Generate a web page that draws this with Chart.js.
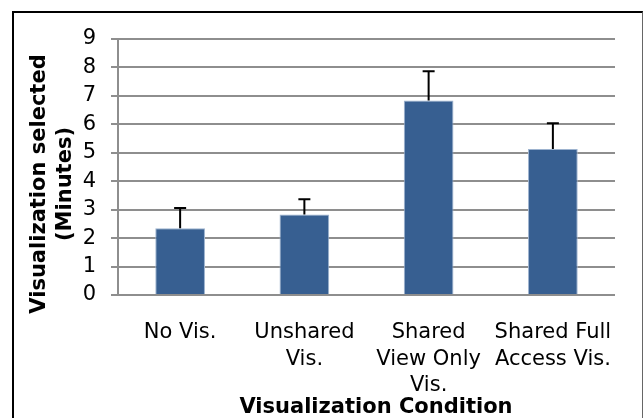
<!DOCTYPE html>
<html>
<head>
<meta charset="utf-8">
<script src="https://cdn.jsdelivr.net/npm/chart.js@4"></script>
<style>
	body { margin: 0; background: #fff; }
	#wrap { position: relative; width: 643px; height: 418px; overflow: hidden; }
	#frame { position: absolute; left: 12px; top: 11px; width: 628px; height: 440px; border-left: 2px solid #000; border-top: 2px solid #000; border-right: 1px solid #666; }
	canvas { position: absolute; left: 0; top: 0; }
</style>
</head>
<body>
<div id="wrap">
	<div id="frame"></div>
	<canvas id="chart" width="643" height="418"></canvas>
</div>
<script>
/*-------------------------------------------------------------------------*/
// Data
/*-------------------------------------------------------------------------*/
var conditions = [['No Vis.'], ['Unshared', 'Vis.'], ['Shared', 'View Only', 'Vis.'], ['Shared Full', 'Access Vis.']];
var meanMinutes = [2.35, 2.83, 6.84, 5.13];
var errMinutes = [0.71, 0.54, 1.03, 0.91];
var yTicks = [0, 1, 2, 3, 4, 5, 6, 7, 8, 9];

var yTitle = ['Visualization selected', '(Minutes)'];
var xTitle = 'Visualization Condition';

var fontFamily = '"DejaVu Sans", Verdana, sans-serif';

// Error bars (upper only) drawn on top of the bars
var errorBarPlugin = {
	id: 'errorBars',
	afterDatasetsDraw: function(chart) {
		var ctx = chart.ctx;
		var yScale = chart.scales.y;
		var meta = chart.getDatasetMeta(0);
		ctx.save();
		ctx.strokeStyle = '#000';
		ctx.lineWidth = 2;
		meta.data.forEach(function(bar, i) {
			var top = yScale.getPixelForValue(meanMinutes[i] + errMinutes[i]);
			ctx.beginPath();
			ctx.moveTo(bar.x, bar.y);
			ctx.lineTo(bar.x, top);
			ctx.moveTo(bar.x - 6, top);
			ctx.lineTo(bar.x + 6, top);
			ctx.stroke();
		});
		ctx.restore();
	}
};

// Axis titles, placed like the original (centred on the whole frame)
var axisTitlePlugin = {
	id: 'axisTitles',
	afterDraw: function(chart) {
		var ctx = chart.ctx;
		ctx.save();
		ctx.fillStyle = '#000';
		ctx.font = 'bold 21px ' + fontFamily;
		ctx.textAlign = 'center';
		ctx.textBaseline = 'middle';
		ctx.translate(40, 184);
		ctx.rotate(-Math.PI / 2);
		ctx.fillText(yTitle[0], 0, 0);
		ctx.fillText(yTitle[1], 0, 26);
		ctx.restore();

		ctx.save();
		ctx.fillStyle = '#000';
		ctx.font = 'bold 21px ' + fontFamily;
		ctx.textAlign = 'center';
		ctx.textBaseline = 'middle';
		ctx.fillText(xTitle, 376, 408);
		ctx.restore();
	}
};

var graphCTX = document.getElementById('chart').getContext('2d');
new Chart(graphCTX, {
	type: 'bar',
	data: {
		labels: conditions,
		datasets: [{
			data: meanMinutes,
			backgroundColor: '#375F91',
			borderColor: '#9DB3CF',
			borderWidth: 1,
			barPercentage: 0.4,
			categoryPercentage: 1
		}]
	},
	options: {
		responsive: false,
		animation: false,
		layout: { padding: { left: 0, right: 28, top: 39, bottom: 0 } },
		plugins: { legend: { display: false }, tooltip: { enabled: false } },
		scales: {
			x: {
				grid: { display: false, drawTicks: false },
				border: { display: false },
				ticks: {
					color: '#000',
					padding: 25,
					maxRotation: 0,
					autoSkip: false,
					font: { family: fontFamily, size: 21, lineHeight: 1.24 }
				},
				afterFit: function(scale) { scale.height = 123; }
			},
			y: {
				min: 0,
				max: 9,
				afterBuildTicks: function(scale) {
					scale.ticks = yTicks.map(function(v) { return { value: v }; });
				},
				grid: { color: '#8E8E8E', lineWidth: 2, tickLength: 7 },
				border: { color: '#8E8E8E', width: 2 },
				ticks: {
					color: '#000',
					padding: 15,
					font: { family: fontFamily, size: 21 }
				},
				afterFit: function(scale) { scale.width = 118; }
			}
		}
	},
	plugins: [errorBarPlugin, axisTitlePlugin]
});
</script>
</body>
</html>
